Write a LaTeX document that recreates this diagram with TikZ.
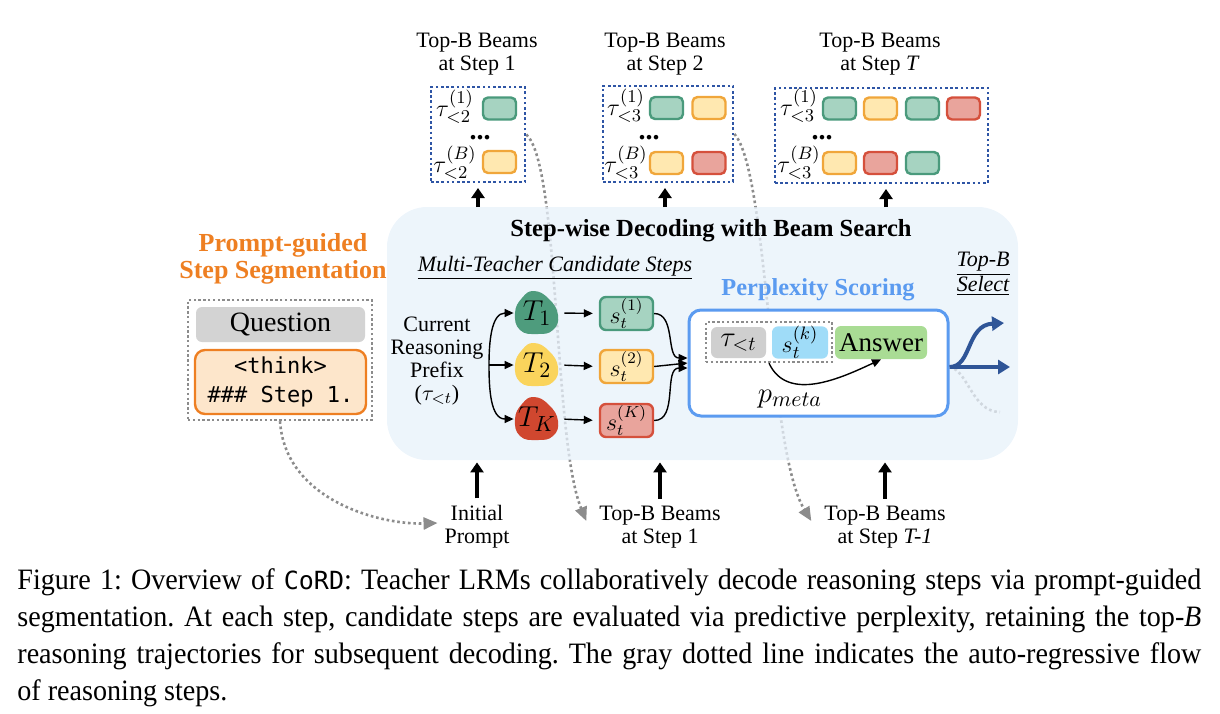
\documentclass[tikz,border=0pt]{standalone}
\usepackage{fontspec}
\setmainfont{Liberation Serif}
\setmonofont{DejaVu Sans Mono}
\newfontfamily\capfont{Liberation Serif}[FakeStretch=0.95]
\usetikzlibrary{arrows.meta,calc}
\definecolor{beamblue}{HTML}{2E55A5}
\definecolor{dotgray}{HTML}{8C8C8C}
\definecolor{regionfill}{HTML}{E7F1FA}
\definecolor{pblue}{HTML}{5B9BF0}
\definecolor{porange}{HTML}{EE7F22}
\definecolor{selblue}{HTML}{2F5597}
\definecolor{gfill}{HTML}{A6D3C1}
\definecolor{gdraw}{HTML}{4A9A7C}
\definecolor{yfill}{HTML}{FFE8B0}
\definecolor{ydraw}{HTML}{F0A63A}
\definecolor{rfill}{HTML}{E9A49C}
\definecolor{rdraw}{HTML}{D5503C}
\definecolor{tgreen}{HTML}{4E9C7D}
\definecolor{tyellow}{HTML}{FAD45C}
\definecolor{tred}{HTML}{D0472F}
\definecolor{qgray}{HTML}{D3D3D3}
\definecolor{thinkfill}{HTML}{FDE6CB}
\definecolor{taugray}{HTML}{CFCFCF}
\definecolor{sblue}{HTML}{9FDCF8}
\definecolor{ansgreen}{HTML}{A9DC94}
\pgfdeclarelayer{bgg}
\pgfdeclarelayer{bg}
\pgfsetlayers{bgg,bg,main}
\newcommand{\tblob}[2]{\begin{scope}[shift={(#2)}]\fill[#1] plot[smooth cycle, tension=0.8] coordinates {(-3,-22) (12,-14) (21,2) (16,17) (0,21) (-17,17) (-22,0) (-15,-15)};\end{scope}}
\begin{document}
\begin{tikzpicture}[x=0.5pt,y=-0.5pt,
  font=\fontsize{11}{11.5}\selectfont,
  beambox/.style={draw=beamblue, line width=1.3pt, dash pattern=on 1.3pt off 1.3pt, inner sep=0pt},
  cell/.style={rectangle, rounded corners=2.5pt, line width=1.2pt, minimum width=16.5pt, minimum height=11pt, inner sep=0pt},
  gcell/.style={cell, fill=gfill, draw=gdraw},
  ycell/.style={cell, fill=yfill, draw=ydraw},
  rcell/.style={cell, fill=rfill, draw=rdraw},
  taulab/.style={font=\fontsize{13}{13}\selectfont, inner sep=0pt},
  dots/.style={font=\bfseries\fontsize{14}{14}\selectfont, inner sep=0pt},
  sbox/.style={rectangle, rounded corners=3pt, line width=1.2pt, minimum width=26.5pt, minimum height=16.5pt, inner sep=0pt, font=\fontsize{12}{12}\selectfont},
  tnode/.style={circle, minimum size=23pt, inner sep=0pt, font=\fontsize{15}{15}\selectfont},
  bigarrow/.style={line width=2pt, -{Triangle[length=5pt,width=6.5pt]}},
  arr/.style={line width=0.7pt, -{Triangle[length=4.5pt,width=4pt]}},
  gdot/.style={draw=dotgray, line width=1.3pt, dash pattern=on 1.3pt off 1.4pt},
  gdotarrow/.style={gdot, -{Triangle[length=7pt,width=6pt,fill=dotgray]}},
  barr/.style={draw=selblue, line width=2pt, -{Triangle[length=6pt,width=7pt]}},
  gbox/.style={draw=dotgray, line width=1.2pt, dash pattern=on 1.2pt off 1.2pt, inner sep=0pt}
]
\useasboundingbox (0,0) rectangle (1220,713);

% region
\begin{pgfonlayer}{bg}
\node[fill=regionfill, fill opacity=0.75, rounded corners=20pt, minimum width=315.5pt, minimum height=126.5pt, inner sep=0pt] (region) at (702.5,333.5) {};
\end{pgfonlayer}

% top labels
\node[align=center] (tl1) at (477,54) {Top-B Beams\\at Step 1};
\node[align=center] (tl2) at (665,54) {Top-B Beams\\at Step 2};
\node[align=center] (tl3) at (880,54) {Top-B Beams\\at Step \textit{T}};

% beam boxes
\node[beambox, minimum width=47pt, minimum height=47.5pt] (bx1) at (478,134.5) {};
\node[beambox, minimum width=65pt, minimum height=48pt] (bx2) at (668,134) {};
\node[beambox, minimum width=106.5pt, minimum height=47.5pt] (bx3) at (881.5,135.5) {};

\node[taulab] (ta1) at (455,107) {$\tau^{(1)}_{<2}$};
\node[taulab] (tb1) at (455,163) {$\tau^{(B)}_{<2}$};
\node[dots] (dd1) at (480,138) {...};
\node[gcell] (c11) at (499.5,108.5) {};
\node[ycell] (c12) at (499.5,162) {};

\node[taulab] (ta2) at (626,106) {$\tau^{(1)}_{<3}$};
\node[taulab] (tb2) at (626,163) {$\tau^{(B)}_{<3}$};
\node[dots] (dd2) at (649,138) {...};
\node[gcell] (c21) at (666.5,108) {};
\node[ycell] (c22) at (709,108) {};
\node[ycell] (c23) at (666.5,163) {};
\node[rcell] (c24) at (709,163) {};

\node[taulab] (ta3) at (799,106) {$\tau^{(1)}_{<3}$};
\node[taulab] (tb3) at (799,163) {$\tau^{(B)}_{<3}$};
\node[dots] (dd3) at (822,138) {...};
\node[gcell] (c31) at (839.5,108.5) {};
\node[ycell] (c32) at (880.5,108.5) {};
\node[gcell] (c33) at (922.5,108.5) {};
\node[rcell] (c34) at (963.5,108.5) {};
\node[ycell] (c35) at (839.5,163) {};
\node[rcell] (c36) at (880.5,163) {};
\node[gcell] (c37) at (922.5,163) {};

% top arrows
\draw[bigarrow, shorten >=3pt] (478,207) -- (478,182);
\draw[bigarrow, shorten >=3pt] (665,207) -- (665,182);
\draw[bigarrow, shorten >=3pt] (886,207) -- (886,183);

% titles
\node[font=\bfseries\fontsize{12.3}{12.5}\selectfont] (title) at (711,231) {Step-wise Decoding with Beam Search};
\node (mt) at (555,268) {\itshape\underline{Multi-Teacher Candidate Steps}};
\node[align=center] (prefix) at (437,361) {Current\\Reasoning\\Prefix\\($\tau_{<t}$)};

% teachers
\tblob{tgreen}{537,313}
\tblob{tyellow}{537,365}
\tblob{tred}{537,419}
\node[tnode] (t1) at (537,313) {$T_1$};
\node[tnode] (t2) at (537,365) {$T_2$};
\node[tnode] (tk) at (537,419) {$T_K$};

\coordinate (fork) at (489,365);
\draw[arr] (fork) to[out=90,in=180] (t1.west);
\draw[arr] (fork) -- (t2.west);
\draw[arr] (fork) to[out=-90,in=180] (tk.west);

\node[sbox, fill=gfill, draw=gdraw] (s1) at (626.5,313.5) {$s_t^{(1)}$};
\node[sbox, fill=yfill, draw=ydraw] (s2) at (626.5,366.5) {$s_t^{(2)}$};
\node[sbox, fill=rfill, draw=rdraw] (sk) at (626.5,420.5) {$s_t^{(K)}$};
\draw[arr, shorten <=2pt, shorten >=3pt] (t1.east) -- (s1.west);
\draw[arr, shorten <=2pt, shorten >=3pt] (t2.east) -- (s2.west);
\draw[arr, shorten <=2pt, shorten >=3pt] (tk.east) -- (sk.west);

% perplexity
\node[font=\bfseries\fontsize{12.2}{12.5}\selectfont, text=pblue] (plab) at (818,290) {Perplexity Scoring};
\node[draw=pblue, fill=white, line width=1.5pt, rounded corners=6pt, minimum width=129.5pt, minimum height=53pt, inner sep=0pt] (perp) at (818.5,363) {};
\draw[arr] (s1.east) to[out=0,in=180] ([yshift=2.5pt]perp.west);
\draw[arr] (s2.east) -- (perp.west);
\draw[arr] (sk.east) to[out=0,in=180] ([yshift=-2.5pt]perp.west);

\node[gbox, minimum width=63pt, minimum height=20pt] (dbox) at (769,342) {};
\node[fill=taugray, rounded corners=3pt, minimum width=27.5pt, minimum height=15.5pt, inner sep=0pt, font=\fontsize{14}{14}\selectfont] (tau) at (738.5,342.5) {$\tau_{<t}$};
\node[fill=sblue, rounded corners=3pt, minimum width=28pt, minimum height=15.5pt, inner sep=0pt, font=\fontsize{13}{13}\selectfont] (sk2) at (800,342.5) {$s_t^{(k)}$};
\node[fill=ansgreen, rounded corners=3pt, minimum width=46pt, minimum height=16.5pt, inner sep=0pt, font=\fontsize{13.5}{13.5}\selectfont] (ans) at (881,342.5) {Answer};
\draw[arr] (dbox.south) to[out=-65,in=205] (ans.south);
\node[font=\fontsize{15}{15}\selectfont] (pm) at (790,399) {$p_{meta}$};

% top-B select
\node[align=center, font=\itshape\fontsize{11}{12.5}\selectfont] (sel) at (983,274) {\underline{Top-B}\\\underline{Select}};
\coordinate (sel1) at (1010,367);
\coordinate (sel2) at (1004,323);
\coordinate (sel3) at (1000,412);
\draw[barr] ([yshift=-2pt]perp.east) -- (sel1);
\draw[barr] ([yshift=-2pt]perp.east) .. controls (972,367) and (966,325) .. (sel2);

% prompt-guided
\node[align=center, text=porange, font=\bfseries\fontsize{13}{13.5}\selectfont] (pg) at (283,259) {Prompt-guided\\Step Segmentation};
\node[gbox, minimum width=92pt, minimum height=60pt] (outer) at (280,360) {};
\node[fill=qgray, rounded corners=3pt, minimum width=84.5pt, minimum height=17.5pt, inner sep=0pt, font=\fontsize{14}{14}\selectfont] (q) at (280.5,324.5) {Question};
\node[fill=thinkfill, draw=porange, line width=1.2pt, rounded corners=5pt, minimum width=85.5pt, minimum height=32pt, inner sep=0pt, align=center, font=\ttfamily\fontsize{11}{14.5}\selectfont] (think) at (280.5,382) {<think>\\\#\#\# Step 1.};

% bottom labels
\node[align=center] (ip) at (477,527) {Initial\\Prompt};
\node[align=center] (bl2) at (660,527) {Top-B Beams\\at Step 1};
\node[align=center] (bl3) at (885,527) {Top-B Beams\\at Step \textit{T-1}};
\draw[bigarrow, shorten >=1pt] (ip.north) -- (ip.north |- region.south);
\draw[bigarrow, shorten >=1pt] (bl2.north) -- (bl2.north |- region.south);
\draw[bigarrow, shorten >=1pt] (bl3.north) -- (bl3.north |- region.south);

% dotted flows
\begin{pgfonlayer}{bgg}
\draw[gdotarrow] (bx1.east) .. controls (560,165) and (553,440) .. ([xshift=-3pt,yshift=3pt]bl2.west);
\draw[gdotarrow] (bx2.east) .. controls (768,170) and (768,450) .. ([xshift=-3pt,yshift=3pt]bl3.west);
\draw[gdotarrow] (outer.south) .. controls (285,500) and (380,525) .. ([yshift=2pt]ip.west);
\draw[gdot] ([yshift=-2pt]perp.east) .. controls (968,370) and (972,412) .. (sel3);
\end{pgfonlayer}

% caption
\node[anchor=north west, text width=592pt, align=justify, inner sep=0pt, font=\capfont\fontsize{14.8}{18.5}\selectfont\frenchspacing] (cap) at (17,568) {Figure 1: Overview of {\ttfamily\fontsize{12.5}{12.5}\selectfont CoRD}: Teacher LRMs collaboratively decode reasoning steps via prompt-guided\linebreak segmentation. At each step, candidate steps are evaluated via predictive perplexity, retaining the top-\textit{B}\linebreak reasoning trajectories for subsequent decoding. The gray dotted line indicates the auto-regressive flow\linebreak of reasoning steps.};
\end{tikzpicture}
\end{document}
